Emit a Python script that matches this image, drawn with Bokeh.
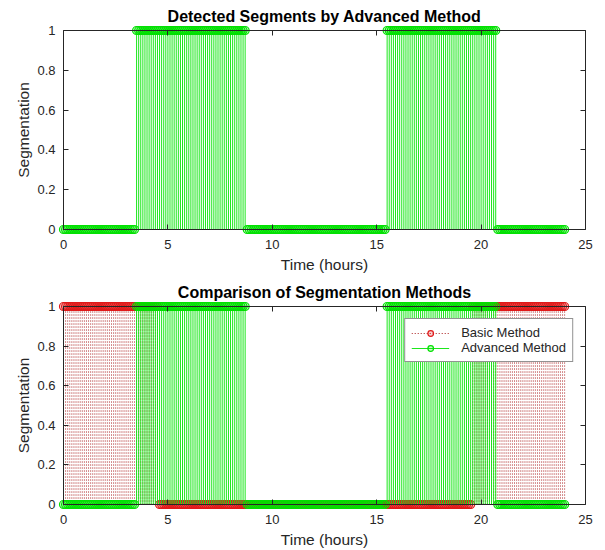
import numpy as np
from bokeh.plotting import figure
from bokeh.models import Range1d, LinearAxis, FixedTicker, Legend, LegendItem
from bokeh.layouts import column
from bokeh.embed import file_html
from bokeh.resources import INLINE

# ---- data (sampled every 0.1 h from 0 to 24 h) ----
time_hours = [round(i * 0.1, 1) for i in range(241)]

# advanced method segmentation, one string of 10 samples per hour (0..23), plus t = 24
advanced_by_hour = [
    "0000000000", "0000000000", "0000000000", "0000011111",
    "1111111111", "1111111111", "1111111111", "1111111111",
    "1111111100", "0000000000", "0000000000", "0000000000",
    "0000000000", "0000000000", "0000000000", "0000011111",
    "1111111111", "1111111111", "1111111111", "1111111111",
    "1111111100", "0000000000", "0000000000", "0000000000",
    "0",
]
# basic method segmentation
basic_by_hour = [
    "1111111111", "1111111111", "1111111111", "1111111111",
    "1111110000", "0000000000", "0000000000", "0000000000",
    "0000000000", "0000000000", "0000000000", "0000000000",
    "0000000000", "0000000000", "0000000000", "0000000000",
    "0000000000", "0000000000", "0000000000", "0000001111",
    "1111111111", "1111111111", "1111111111", "1111111111",
    "1",
]
advanced_seg = [int(c) for c in "".join(advanced_by_hour)]
basic_seg = [int(c) for c in "".join(basic_by_hour)]

x_lim = (0, 25)
y_lim = (0, 1)
x_ticks = [0, 5, 10, 15, 20, 25]
y_ticks = [0, 0.2, 0.4, 0.6, 0.8, 1]
y_tick_labels = ["0", "0.2", "0.4", "0.6", "0.8", "1"]

titles = ["Detected Segments by Advanced Method", "Comparison of Segmentation Methods"]
x_label = "Time (hours)"
y_label = "Segmentation"
legend_labels = ["Basic Method", "Advanced Method"]

FONT = "Liberation Sans"
AX = "#262626"
GREEN_LINE = "#10e610"
GREEN_MK = "#00e000"
RED_LINE = "#a00000"
RED_MK = "#e01818"

# axes box is 522 x 199 px; the frame is 5 px larger on each side so markers are not cut
PAD_PX = 5
BOX_W, BOX_H = 522, 199
xpad = PAD_PX * (x_lim[1] - x_lim[0]) / BOX_W
ypad = PAD_PX * (y_lim[1] - y_lim[0]) / BOX_H


def box_axis(ticks, loc, bounds):
    """Axis drawn at the data box edge: line + inward ticks only."""
    ax = LinearAxis(fixed_location=loc, bounds=bounds)
    ax.ticker = FixedTicker(ticks=ticks)
    ax.major_tick_in = 5
    ax.major_tick_out = 0
    ax.minor_tick_line_color = None
    ax.axis_line_color = AX
    ax.major_tick_line_color = AX
    ax.major_label_text_font_size = "1px"
    ax.major_label_text_color = None
    ax.major_label_standoff = 0
    ax.major_label_overrides = {t: "" for t in ticks}
    return ax


def label_axis(ax, ticks, label):
    """Axis at the frame edge that only carries tick labels and the axis title."""
    ax.ticker = FixedTicker(ticks=ticks)
    ax.axis_line_color = None
    ax.major_tick_line_color = None
    ax.minor_tick_line_color = None
    ax.major_tick_in = 0
    ax.major_tick_out = 0
    ax.major_label_text_font = FONT
    ax.major_label_text_font_size = "13px"
    ax.major_label_text_color = AX
    ax.axis_label = label
    ax.axis_label_text_font = FONT
    ax.axis_label_text_font_size = "15.5px"
    ax.axis_label_text_font_style = "normal"
    ax.axis_label_text_color = AX


def make_panel(title, height, border_top, border_bottom):
    p = figure(width=605, height=height, output_backend="svg", toolbar_location=None,
               x_range=Range1d(x_lim[0] - xpad, x_lim[1] + xpad),
               y_range=Range1d(y_lim[0] - ypad, y_lim[1] + ypad),
               min_border_left=63 - PAD_PX, min_border_right=605 - 585 - PAD_PX,
               min_border_top=border_top, min_border_bottom=border_bottom)
    p.grid.visible = False
    p.outline_line_color = None
    p.title.text = title
    p.title.text_font = FONT
    p.title.text_font_size = "16px"
    p.title.text_font_style = "bold"
    p.title.text_color = "#000000"
    p.title.align = "center"
    p.title.standoff = 1

    label_axis(p.xaxis[0], x_ticks, x_label)
    label_axis(p.yaxis[0], y_ticks, y_label)
    p.xaxis.major_label_standoff = 5
    p.xaxis.axis_label_standoff = 4
    p.yaxis.major_label_standoff = 3
    p.yaxis.axis_label_standoff = 2
    p.yaxis.major_label_overrides = {t: l for t, l in zip(y_ticks, y_tick_labels)}

    p.add_layout(box_axis(x_ticks, y_lim[0], x_lim), "below")
    p.add_layout(box_axis(y_ticks, x_lim[0], y_lim), "left")
    p.add_layout(box_axis(x_ticks, y_lim[1], x_lim), "above")
    p.add_layout(box_axis(y_ticks, x_lim[1], y_lim), "right")
    return p


def stem(p, y, line_color, mk_color, dash, alpha):
    zeros = [0] * len(time_hours)
    seg = p.segment(x0=time_hours, y0=zeros, x1=time_hours, y1=y,
                    line_color=line_color, line_width=1, line_dash=dash, line_alpha=alpha)
    mk = p.scatter(x=time_hours, y=y, marker="circle", size=8,
                   line_color=mk_color, line_width=1.2, fill_color=mk_color, fill_alpha=0.2)
    return seg, mk


# top panel
p1 = make_panel(titles[0], 278, 25, 44)
stem(p1, advanced_seg, GREEN_LINE, GREEN_MK, "solid", 0.95)

# bottom panel
p2 = make_panel(titles[1], 272, 23, 40)
r_seg, r_mk = stem(p2, basic_seg, RED_LINE, RED_MK, "1 2", 0.9)
g_seg, g_mk = stem(p2, advanced_seg, GREEN_LINE, GREEN_MK, "solid", 0.95)

legend = Legend(items=[LegendItem(label=legend_labels[0], renderers=[r_seg, r_mk]),
                       LegendItem(label=legend_labels[1], renderers=[g_seg, g_mk])],
                location="top_right", margin=17, padding=6, spacing=0,
                glyph_width=38, glyph_height=14, label_standoff=12,
                label_text_font=FONT, label_text_font_size="13px", label_text_color=AX,
                border_line_color=AX, border_line_width=1, background_fill_alpha=1)
p2.add_layout(legend)

layout = column(p1, p2, spacing=0)
open("out.html", "w").write(file_html(layout, INLINE))
